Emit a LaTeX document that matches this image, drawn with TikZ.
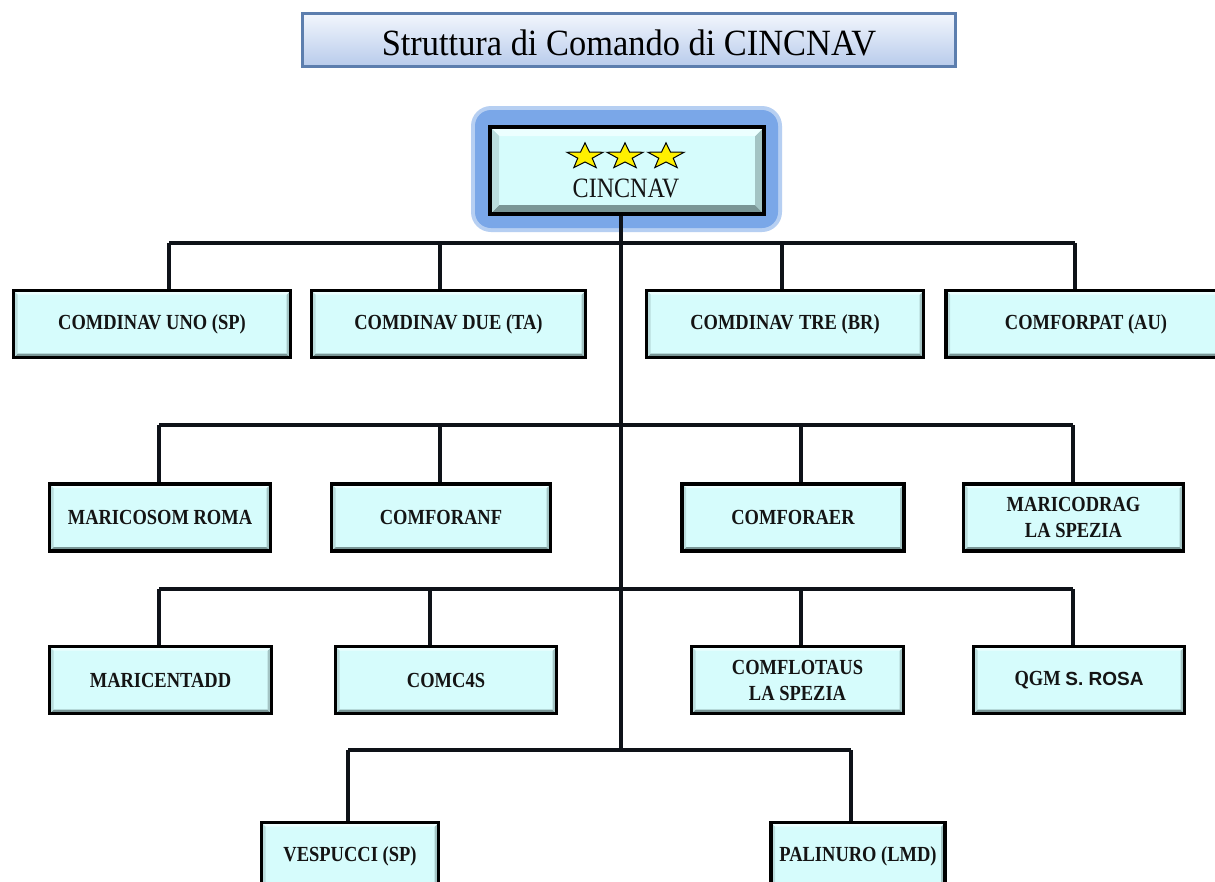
\documentclass[tikz,border=0pt]{standalone}
\usepackage{fontspec}
\setmainfont{Liberation Serif}
\newfontfamily\labfont[FakeStretch=0.86]{Liberation Serif}
\newfontfamily\titlefont[FakeStretch=0.93]{Liberation Serif}
\newfontfamily\sanslab{Liberation Sans}
\usetikzlibrary{shapes.geometric}
\definecolor{boxfill}{RGB}{214,252,252}
\definecolor{bevdark}{RGB}{122,150,150}
\definecolor{bevlight}{RGB}{236,255,255}
\definecolor{glow}{RGB}{122,167,232}
\definecolor{titleborder}{RGB}{92,126,174}
\definecolor{titletop}{RGB}{242,246,253}
\definecolor{titlebot}{RGB}{184,203,235}
\definecolor{linecol}{RGB}{14,18,24}
\definecolor{starfill}{RGB}{255,240,0}
\tikzset{
  bevel/.style={path picture={
    \fill[bevdark] (path picture bounding box.south west) -- (path picture bounding box.south east)
       -- ([shift={(-#1,#1)}]path picture bounding box.south east) -- ([shift={(#1,#1)}]path picture bounding box.south west) -- cycle;
    \fill[bevdark!55!boxfill] (path picture bounding box.south east) -- (path picture bounding box.north east)
       -- ([shift={(-#1,-#1)}]path picture bounding box.north east) -- ([shift={(-#1,#1)}]path picture bounding box.south east) -- cycle;
    \fill[bevlight] (path picture bounding box.north west) -- (path picture bounding box.north east)
       -- ([shift={(-#1,-#1)}]path picture bounding box.north east) -- ([shift={(#1,-#1)}]path picture bounding box.north west) -- cycle;
    \fill[bevdark!30!boxfill] (path picture bounding box.north west) -- (path picture bounding box.south west)
       -- ([shift={(#1,#1)}]path picture bounding box.south west) -- ([shift={(#1,-#1)}]path picture bounding box.north west) -- cycle;
  }},
  orgbox/.style={draw=black, line width=3.6pt, fill=boxfill, bevel=4pt, minimum height=67pt,
    inner sep=0pt, align=center, text=black!92,
    font=\labfont\bfseries\fontsize{21.5}{26}\selectfont},
  conn/.style={draw=linecol, line width=3.4pt},
  starsty/.style={star, star points=5, star point ratio=2.5, minimum size=38pt, inner sep=0pt,
    fill=starfill, draw=black, line width=1pt},
  titlebox/.style={draw=titleborder, line width=3.5pt, top color=titletop, bottom color=titlebot,
    inner sep=0pt}
}
\begin{document}
\begin{tikzpicture}[x=1pt,y=-1pt]
\clip (0,0) rectangle (1215,881);
\fill[white] (0,0) rectangle (1215,881);

% title
\node[titlebox, minimum width=653pt, minimum height=53pt] (title) at (629,40) {};
\node (titletext) at (629,43) {\titlefont\fontsize{37}{42}\selectfont Struttura di Comando di CINCNAV};

% glow + top box
\fill[glow!55!white, rounded corners=20pt] (471,106) rectangle (782,232);
\fill[glow, rounded corners=16pt] (475,110) rectangle (778,228);
\node[orgbox, bevel=9pt, minimum width=274pt, minimum height=87pt] (cinc) at (627,170.5) {};
\node[starsty, yscale=0.72, transform shape] (s1) at (585,156.5) {};
\node[starsty, yscale=0.72, transform shape] (s2) at (625,156.5) {};
\node[starsty, yscale=0.72, transform shape] (s3) at (666,156.5) {};
\node[text=black!92] (cinclabel) at (626,188) {\labfont\fontsize{28}{32}\selectfont CINCNAV};

% row 1
\node[orgbox, minimum width=277pt] (c1) at (152,324) {COMDINAV UNO (SP)};
\node[orgbox, minimum width=274pt] (c2) at (448.5,324) {COMDINAV DUE (TA)};
\node[orgbox, minimum width=277pt] (c3) at (785,324) {COMDINAV\hspace{0.25em}TRE (BR)};
\node[orgbox, minimum width=280pt] (c4) at (1086,324) {COMFORPAT (AU)};

% row 2
\node[orgbox, minimum width=221pt] (m1) at (160,517.5) {MARICOSOM ROMA};
\node[orgbox, minimum width=219pt] (m2) at (441,517.5) {COMFORANF};
\node[orgbox, minimum width=222pt] (m3) at (793,517.5) {COMFORAER};
\node[orgbox, minimum width=220pt] (m4) at (1073.5,517.5) {MARICODRAG\\LA SPEZIA};

% row 3
\node[orgbox, minimum width=222pt] (n1) at (160.5,680) {MARICENTADD};
\node[orgbox, minimum width=221pt] (n2) at (446,680) {COMC4S};
\node[orgbox, minimum width=212pt] (n3) at (797.5,680) {COMFLOTAUS\\LA SPEZIA};
\node[orgbox, minimum width=211pt] (n4) at (1079,680) {QGM {\sanslab\bfseries\fontsize{19}{22}\selectfont S. ROSA}};

% row 4
\node[orgbox, minimum width=177pt] (v1) at (350,856) {VESPUCCI (SP)};
\node[orgbox, minimum width=174pt] (v2) at (858,856) {PALINURO (LMD)};

% bus coordinates
\coordinate (t1) at (621,243);
\coordinate (t4) at (621,750);
\coordinate (a1) at (169,243);
\coordinate (a2) at (440,243);
\coordinate (a3) at (782,243);
\coordinate (a4) at (1075,243);
\coordinate (b1) at (159,425);
\coordinate (b2) at (440,425);
\coordinate (b3) at (801,425);
\coordinate (b4) at (1073,425);
\coordinate (d1) at (159,589);
\coordinate (d2) at (430,589);
\coordinate (d3) at (801,589);
\coordinate (d4) at (1073,589);
\coordinate (e1) at (348,750);
\coordinate (e2) at (851,750);

% trunk
\draw[conn] (cinc.south -| t1) -- (t4);

% buses
\draw[conn] (a1) -- (a4);
\draw[conn] (b1) -- (b4);
\draw[conn] (d1) -- (d4);
\draw[conn] (e1) -- (e2);

% drops
\draw[conn] (a1) -- (a1 |- c1.north);
\draw[conn] (a2) -- (a2 |- c2.north);
\draw[conn] (a3) -- (a3 |- c3.north);
\draw[conn] (a4) -- (a4 |- c4.north);
\draw[conn] (b1) -- (b1 |- m1.north);
\draw[conn] (b2) -- (b2 |- m2.north);
\draw[conn] (b3) -- (b3 |- m3.north);
\draw[conn] (b4) -- (b4 |- m4.north);
\draw[conn] (d1) -- (d1 |- n1.north);
\draw[conn] (d2) -- (d2 |- n2.north);
\draw[conn] (d3) -- (d3 |- n3.north);
\draw[conn] (d4) -- (d4 |- n4.north);
\draw[conn] (e1) -- (e1 |- v1.north);
\draw[conn] (e2) -- (e2 |- v2.north);
\end{tikzpicture}
\end{document}
